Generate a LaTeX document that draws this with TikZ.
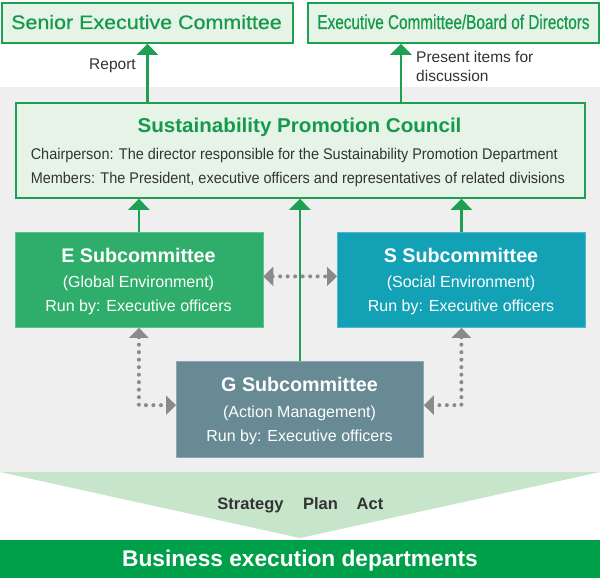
\documentclass[tikz,border=0pt]{standalone}
\usepackage{fontspec}
\setmainfont{Liberation Sans}
\newfontfamily\mediumfont[FakeBold=0.6]{Liberation Sans}
\usepackage{graphicx}
\usetikzlibrary{arrows.meta}
\definecolor{gborder}{HTML}{1DA052}
\definecolor{lgfill}{HTML}{E6F3E7}
\definecolor{gtext}{HTML}{15994A}
\definecolor{bgray}{HTML}{EEEFEE}
\definecolor{efill}{HTML}{2EAE6A}
\definecolor{sfill}{HTML}{13A1B6}
\definecolor{gfill}{HTML}{678A94}
\definecolor{funnelc}{HTML}{C6E5CB}
\definecolor{bizbar}{HTML}{00A04A}
\definecolor{darr}{HTML}{8A8A8A}
\definecolor{txt}{HTML}{333333}
\newcommand{\fsz}[1]{\fontsize{#1}{#1}\selectfont}
\newcommand{\sx}[2]{\scalebox{#1}[1]{#2}}
\begin{document}
\begin{tikzpicture}[x=1pt,y=-1pt,
  topbox/.style={draw=gborder, line width=1.8pt, fill=lgfill, inner sep=0pt, anchor=north west},
  subbox/.style={draw=#1!75!white, line width=0.8pt, fill=#1, inner sep=0pt, anchor=north west, minimum width=248pt, minimum height=95pt},
  garrow/.style={draw=gborder, line width=2.6pt, -{Triangle[width=21pt,length=11pt]}},
  darrow/.style={draw=darr, line width=4pt, line cap=round, dash pattern=on 0pt off 7.5pt, {Triangle[width=19pt,length=10pt]}-{Triangle[width=19pt,length=10pt]}},
  lbl/.style={inner sep=0pt, anchor=base},
  gtitle/.style={lbl, text=gtext},
  body/.style={lbl, text=txt},
  wtxt/.style={lbl, text=white}
]
\useasboundingbox (0,0) rectangle (600,578);
\fill[white] (0,0) rectangle (600,578);
\fill[bgray] (0,87) rectangle (600,472);
\fill[funnelc] (0,472) -- (600,472) -- (300,538) -- cycle;

% boxes
\node[topbox, minimum width=291pt, minimum height=40pt] (senior) at (1,2) {};
\node[topbox, minimum width=291pt, minimum height=40pt] (exec) at (307,2) {};
\node[topbox, minimum width=569pt, minimum height=95pt] (council) at (15,102) {};
\node[subbox=efill] (E) at (14.5,232) {};
\node[subbox=sfill] (S) at (337,232) {};
\node[subbox=gfill, minimum width=247pt, minimum height=95.5pt] (G) at (176,361) {};
\node[fill=bizbar, anchor=north west, minimum width=600pt, minimum height=38pt, inner sep=0pt] (biz) at (0,540) {};

% dotted connectors
\draw[darrow] ([yshift=3.5pt]E.east) -- ([yshift=3.5pt]S.west);
\draw[darrow] (E.south) |- ([yshift=4pt]G.west);
\draw[darrow] (S.south) |- ([yshift=4pt]G.east);

% green connectors
\coordinate (px) at (401,0);
\draw[garrow] (council.north -| senior.south) -- (senior.south);
\draw[garrow] (council.north -| px) -- (exec.south -| px);
\draw[garrow] (E.north) -- (E.north |- council.south);
\draw[garrow] (S.north) -- (S.north |- council.south);
\draw[garrow] (G.north) -- (G.north |- council.south);

% texts
\node[gtitle] (tsenior) at (146.5,29) {\fsz{19.5}\mediumfont\sx{1.1}{Senior Executive Committee}};
\node[gtitle] (texec) at (453.5,29) {\fsz{20}\mediumfont\sx{0.765}{Executive Committee/Board of Directors}};
\node[body] (treport) at (112.5,69.5) {\fsz{15.5}Report};
\node[body, anchor=base west] (tpres1) at (416,62.5) {\fsz{15.5}Present items for};
\node[body, anchor=base west] (tpres2) at (416,81.5) {\fsz{15.5}discussion};
\node[gtitle] (tcouncil) at (299.5,132) {\fsz{20}\bfseries\sx{1.03}{Sustainability Promotion Council}};
\node[body, anchor=base west] (tchair) at (30.6,159.5) {\fsz{15.5}\sx{0.933}{Chairperson: The director responsible for the Sustainability Promotion Department}};
\node[body, anchor=base west] (tmem) at (30.6,183.5) {\fsz{15.5}\sx{0.933}{Members: The President, executive officers and representatives of related divisions}};

\node[wtxt] (te1) at (138.5,262) {\fsz{19.7}\bfseries E Subcommittee};
\node[wtxt] (te2) at (138.5,287.7) {\fsz{16}(Global Environment)};
\node[wtxt] (te3) at (138.5,311.7) {\fsz{16}Run by: Executive officers};

\node[wtxt] (ts1) at (461,262) {\fsz{19.7}\bfseries S Subcommittee};
\node[wtxt] (ts2) at (461,287.7) {\fsz{16}(Social Environment)};
\node[wtxt] (ts3) at (461,311.7) {\fsz{16}Run by: Executive officers};

\node[wtxt] (tg1) at (299.5,391) {\fsz{19.7}\bfseries G Subcommittee};
\node[wtxt] (tg2) at (299.5,417.7) {\fsz{16}(Action Management)};
\node[wtxt] (tg3) at (299.5,441.7) {\fsz{16}Run by: Executive officers};

\node[body] (tstr) at (250.5,509) {\fsz{16.5}\bfseries Strategy};
\node[body] (tplan) at (320.5,509) {\fsz{16.5}\bfseries Plan};
\node[body] (tact) at (370,509) {\fsz{16.5}\bfseries Act};

\node[wtxt] (tbiz) at (300,566) {\fsz{22.7}\bfseries Business execution departments};
\end{tikzpicture}
\end{document}
